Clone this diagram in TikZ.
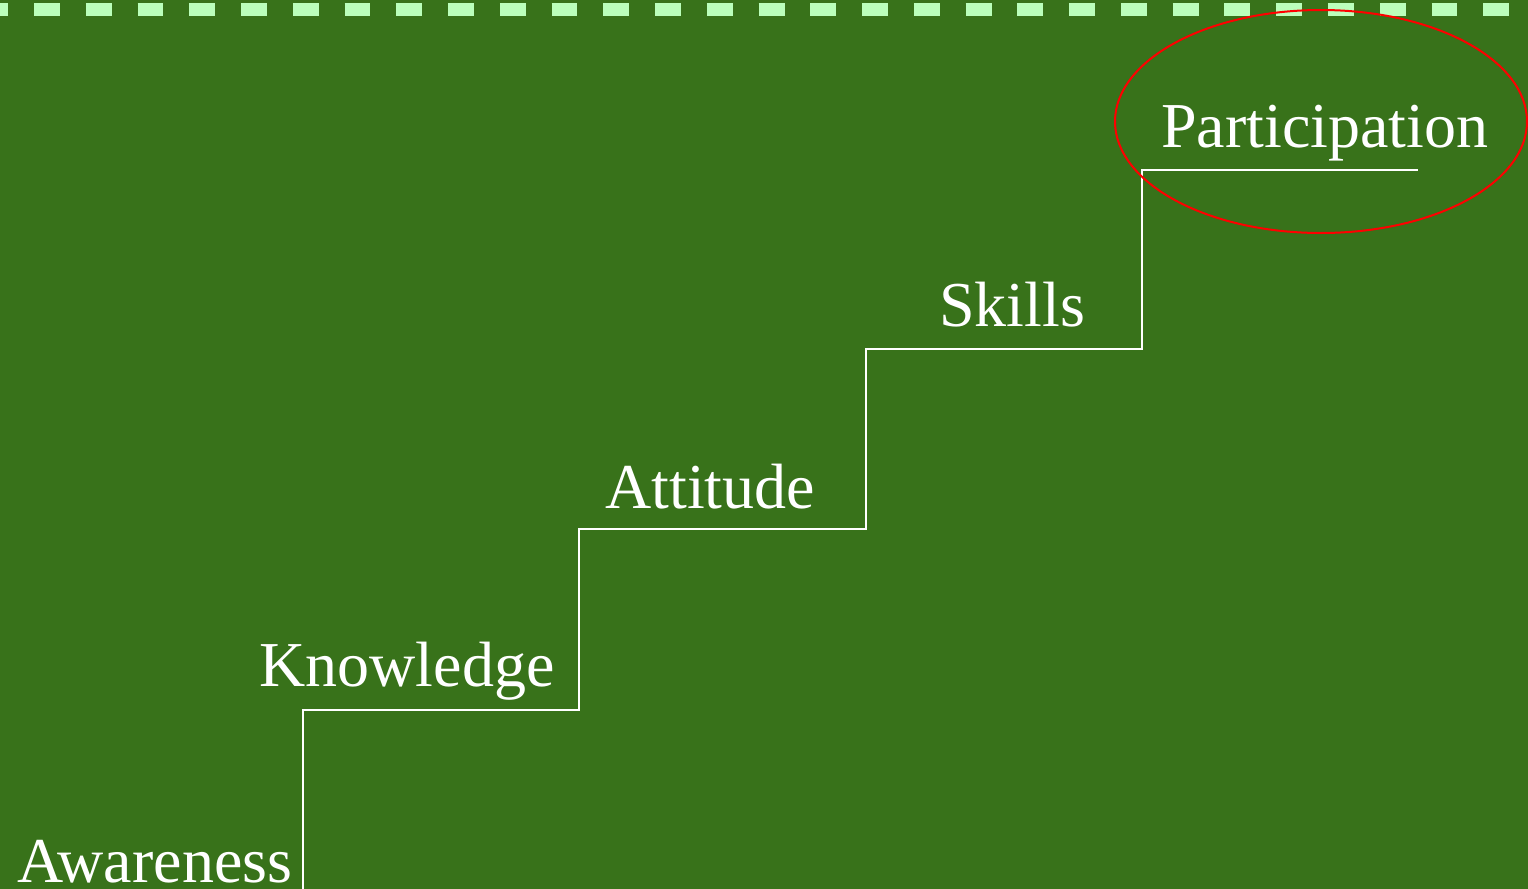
\documentclass[tikz,border=0pt]{standalone}
\usepackage{fontspec}
\setmainfont{Liberation Serif}
\definecolor{boardgreen}{HTML}{38721A}
\definecolor{dashgreen}{HTML}{BBFFBB}
\tikzset{
  steplabel/.style={text=white,inner sep=0pt,anchor=base west,font=\fontsize{32}{38}\selectfont},
  stairline/.style={white,line width=1pt}
}
\begin{document}
\begin{tikzpicture}[x=0.5pt,y=-0.5pt]
\fill [boardgreen](0,0) rectangle (1528,889);
\useasboundingbox (0,0) rectangle (1528,889);
\draw [dashgreen,line width=6.5pt,dash pattern=on 12.94pt off 12.94pt](-17.75,9.5) -- (1540,9.5);
% stairs
\coordinate (s0) at (303,889);
\coordinate (s1) at (303,710);
\coordinate (s2) at (579,710);
\coordinate (s3) at (579,529);
\coordinate (s4) at (866,529);
\coordinate (s5) at (866,349);
\coordinate (s6) at (1142,349);
\coordinate (s7) at (1142,170);
\coordinate (s8) at (1418,170);
\draw [stairline](s0) -- (s1) -- (s2) -- (s3) -- (s4) -- (s5) -- (s6) -- (s7) -- (s8);
\node [steplabel] (aware) at (17,882) {Awareness};
\node [steplabel] (know) at (259,686) {Knowledge};
\node [steplabel] (atti) at (605,508) {Attitude};
\node [steplabel] (skill) at (939,326) {Skills};
\node [steplabel] (part) at (1161,147) {Participation};
\coordinate (goal) at (1321,121.5);
\draw [red,line width=1pt](goal) ellipse [x radius=103pt,y radius=55.75pt];
\end{tikzpicture}
\end{document}
